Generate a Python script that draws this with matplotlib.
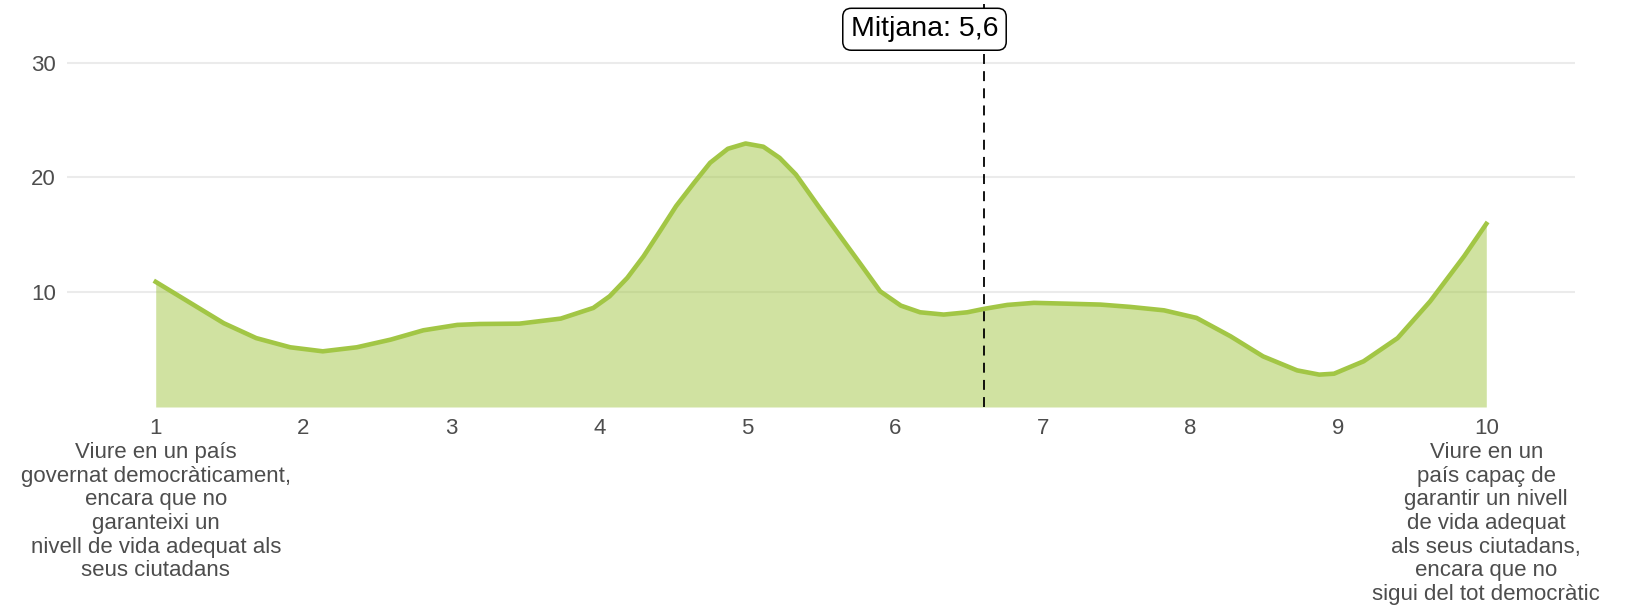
import matplotlib
matplotlib.use("Agg")
from matplotlib import pyplot as plt

# curve readings (x position on the 1-10 scale, percentage)
x_vals = [1.0, 1.23, 1.46, 1.68, 1.91, 2.13, 2.36, 2.59, 2.81, 3.04, 3.19,
          3.46, 3.74, 3.96, 4.07, 4.19, 4.30, 4.41, 4.52, 4.64, 4.75, 4.87,
          4.99, 5.11, 5.22, 5.33, 5.49, 5.63, 5.77, 5.90, 6.04, 6.17, 6.33,
          6.49, 6.60, 6.76, 6.94, 7.16, 7.39, 7.59, 7.82, 8.04, 8.27, 8.49,
          8.72, 8.87, 8.97, 9.17, 9.40, 9.62, 9.85, 10.0]
y_vals = [10.9, 9.1, 7.3, 6.0, 5.2, 4.85, 5.2, 5.87, 6.68, 7.15, 7.23,
          7.26, 7.7, 8.63, 9.64, 11.25, 13.13, 15.3, 17.5, 19.5, 21.27, 22.49,
          22.95, 22.67, 21.7, 20.25, 17.35, 14.87, 12.4, 10.08, 8.83, 8.25, 8.05,
          8.25, 8.54, 8.89, 9.07, 9.0, 8.92, 8.72, 8.42, 7.76, 6.16, 4.41,
          3.19, 2.82, 2.9, 3.98, 6.0, 9.2, 13.13, 15.95]

mean_pos = 6.6
mean_label = "Mitjana: 5,6"

xticks = list(range(1, 11))
xtick_labels = ["1\nViure en un país\ngovernat democràticament,\nencara que no\n"
                "garanteixi un\nnivell de vida adequat als\nseus ciutadans",
                "2", "3", "4", "5", "6", "7", "8", "9",
                "10\nViure en un\npaís capaç de\ngarantir un nivell\nde vida adequat\n"
                "als seus ciutadans,\nencara que no\nsigui del tot democràtic"]
yticks = [10, 20, 30]

green = "#a2c645"
grey = "#4d4d4d"

plt.rcParams['font.family'] = ['Liberation Sans', 'DejaVu Sans']

W, H = 1627, 607
fig = plt.figure(figsize=(W / 100, H / 100), dpi=100)
ax = fig.add_axes([67 / W, 1 - 407 / H, (1575 - 67) / W, (407 - 4) / H])

ax.fill_between(x_vals, y_vals, 0, color=green, alpha=0.5, lw=0)
ax.plot(x_vals, y_vals, color=green, lw=3.3, solid_joinstyle="round")
ax.axvline(mean_pos, color="black", lw=1.3, dashes=(5.5, 4))

ax.text(6.2, 32.9, mean_label, fontsize=20.5, color="black", ha="center", va="center",
        bbox=dict(boxstyle="round,pad=0.28,rounding_size=0.3", fc="white", ec="black", lw=1.1))

ax.set_xlim(0.4, 10.6)
ax.set_ylim(0, 35.1)
ax.set_xticks(xticks)
ax.set_xticklabels(xtick_labels, fontsize=16, color=grey, linespacing=1.17, va="top")
ax.set_yticks(yticks)
ax.set_yticklabels([str(v) for v in yticks], fontsize=16, color=grey)
ax.tick_params(axis="x", length=0, pad=8)
ax.tick_params(axis="y", length=0, pad=8)

ax.grid(axis="y", color="#ebebeb", lw=1.5)
ax.set_axisbelow(True)
for s in ax.spines.values():
    s.set_visible(False)

fig.savefig("out.png", dpi=100)
